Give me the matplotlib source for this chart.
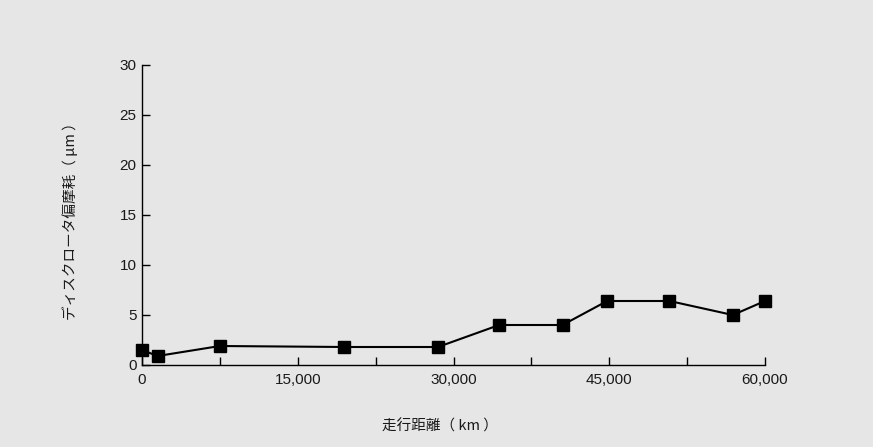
import matplotlib
matplotlib.use("Agg")
import matplotlib.pyplot as plt
from matplotlib.ticker import MultipleLocator, FuncFormatter

plt.rcParams['font.family'] = ['Liberation Sans', 'Noto Sans CJK JP', 'DejaVu Sans']

# Running distance (km) and rotor uneven wear (µm)
distance_km = [0, 1500, 7500, 19500, 28500, 34400, 40500, 44800, 50800, 56900, 60000]
wear_um = [1.5, 0.9, 1.9, 1.8, 1.8, 4.0, 4.0, 6.4, 6.4, 5.0, 6.4]

x_label = "走行距離（ km ）"
y_label = "ディスクロータ偏摩耗（ μm ）"

bg = "#e6e6e6"
text_color = "#1a1a1a"
fig = plt.figure(figsize=(8.73, 4.47), dpi=100, facecolor=bg)
ax = fig.add_axes([142 / 873, 1 - 365 / 447, (765 - 142) / 873, 300 / 447])
ax.set_facecolor(bg)

ax.plot(distance_km, wear_um, color="black", lw=1.5, marker="s",
        markersize=9, markerfacecolor="black", markeredgecolor="black",
        clip_on=False, zorder=3)

ax.set_xlim(0, 60000)
ax.set_ylim(0, 30)
ax.xaxis.set_major_locator(MultipleLocator(15000))
ax.xaxis.set_minor_locator(MultipleLocator(7500))
ax.yaxis.set_major_locator(MultipleLocator(5))
ax.xaxis.set_major_formatter(FuncFormatter(lambda v, p: f"{int(v):,}"))

for side in ("top", "right"):
    ax.spines[side].set_visible(False)
for side in ("left", "bottom"):
    ax.spines[side].set_linewidth(1.0)
    ax.spines[side].set_color("black")

ax.tick_params(axis="both", which="both", direction="in", color="black",
               width=1.0, labelsize=11, labelcolor=text_color)
ax.tick_params(axis="x", which="both", length=6, pad=6)
ax.tick_params(axis="y", which="major", length=6, pad=4)

fig.text(440 / 873, 1 - 426 / 447, x_label, ha="center", va="center",
         fontsize=10.5, color=text_color, family=['Noto Sans CJK JP', 'DejaVu Sans'])
fig.text(70 / 873, 1 - 218 / 447, y_label, ha="center", va="center",
         rotation=90, fontsize=10.5, color=text_color,
         family=['Noto Sans CJK JP', 'DejaVu Sans'])

fig.savefig("out.png", dpi=100, facecolor=bg)
